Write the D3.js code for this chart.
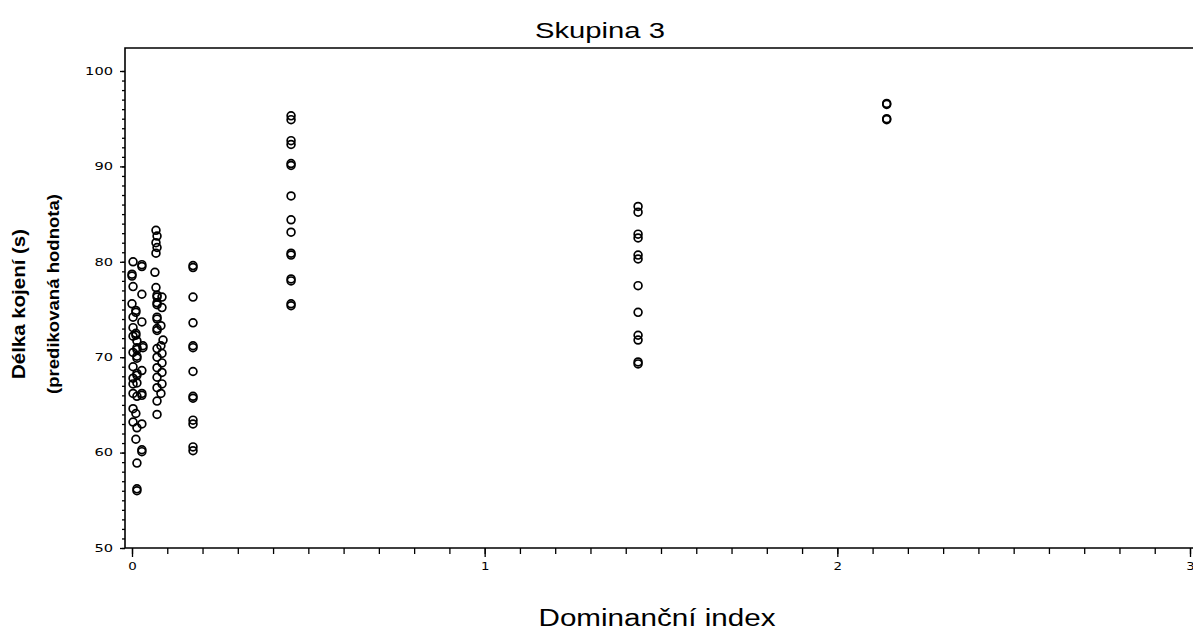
<!DOCTYPE html>
<html>
<head>
<meta charset="utf-8">
<script src="https://cdn.jsdelivr.net/npm/d3@7"></script>
<style>
  body { margin: 0; background: #fff; }
  svg { display: block; }
</style>
</head>
<body>
<svg id="chart" width="1193" height="633"></svg>
<script>
// Dominance index vs. predicted breastfeeding length.
// Heavier circles in the scan are two overlapping points, so they appear twice.
var group0 = [
  [0.003, 80.0], [0.028, 79.7], [0.028, 79.5], [0.000, 78.7], [0.000, 78.5],
  [0.003, 77.4], [0.028, 76.6], [0.000, 75.6], [0.011, 74.9], [0.011, 74.7],
  [0.003, 74.2], [0.028, 73.7], [0.003, 73.1], [0.011, 72.5], [0.011, 72.3],
  [0.003, 72.2], [0.014, 71.7], [0.031, 71.2], [0.031, 71.0], [0.014, 71.0],
  [0.014, 70.8], [0.003, 70.5], [0.014, 70.1], [0.014, 69.9], [0.003, 69.0],
  [0.028, 68.6], [0.014, 68.3], [0.014, 68.1], [0.003, 67.8], [0.014, 67.3],
  [0.003, 67.2], [0.028, 66.2], [0.028, 66.0], [0.003, 66.2], [0.014, 65.9],
  [0.003, 64.6], [0.011, 64.1], [0.003, 63.2], [0.028, 63.0], [0.014, 62.6],
  [0.011, 61.4], [0.028, 60.3], [0.028, 60.1], [0.014, 58.9], [0.014, 56.2],
  [0.014, 56.0]
];
var group1 = [
  [0.068, 83.3], [0.071, 82.7], [0.068, 82.0], [0.071, 81.5], [0.068, 80.9],
  [0.065, 78.9], [0.068, 77.3], [0.071, 76.5], [0.071, 76.3], [0.085, 76.3],
  [0.071, 75.7], [0.071, 75.5], [0.085, 75.2], [0.071, 74.2], [0.071, 74.0],
  [0.082, 73.3], [0.071, 73.0], [0.071, 72.8], [0.088, 71.8], [0.082, 71.2],
  [0.071, 70.9], [0.085, 70.4], [0.071, 70.0], [0.085, 69.4], [0.071, 68.9],
  [0.085, 68.4], [0.071, 67.9], [0.085, 67.2], [0.071, 66.8], [0.082, 66.2],
  [0.071, 65.4], [0.071, 64.0]
];
var group2 = [
  [0.173, 79.6], [0.173, 79.4], [0.173, 76.3], [0.173, 73.6], [0.173, 71.2],
  [0.173, 71.0], [0.173, 68.5], [0.173, 65.9], [0.173, 65.7], [0.173, 63.4],
  [0.173, 63.0], [0.173, 60.6], [0.173, 60.2]
];
var group3 = [
  [0.451, 95.3], [0.451, 94.9], [0.451, 92.7], [0.451, 92.3], [0.451, 90.3],
  [0.451, 90.1], [0.451, 86.9], [0.451, 84.4], [0.451, 83.1], [0.451, 80.9],
  [0.451, 80.7], [0.451, 78.2], [0.451, 78.0], [0.451, 75.6], [0.451, 75.4]
];
var group4 = [
  [1.435, 85.8], [1.435, 85.2], [1.435, 82.9], [1.435, 82.5], [1.435, 80.7],
  [1.435, 80.3], [1.435, 77.5], [1.435, 74.7], [1.435, 72.3], [1.435, 71.8],
  [1.435, 69.5], [1.435, 69.3]
];
var group5 = [
  [2.140, 96.6], [2.140, 96.5], [2.140, 95.0], [2.140, 94.9]
];

var xTicks = [0, 1, 2, 3];
var yTicks = [50, 60, 70, 80, 90, 100];
var title = "Skupina 3";
var xTitle = "Dominanční index";
var yTitle = "Délka kojení (s)";
var yTitle2 = "(predikovaná hodnota)";

var svg = d3.select("#chart");
var ink = "#000";

var x = d3.scaleLinear().domain([0, 3]).range([132, 1190]);
var y = d3.scaleLinear().domain([50, 100]).range([548, 71]);

// Frame: left, top and bottom lines (the right edge runs off the page).
var frameLeft = 125, frameTop = 48, frameBottom = 548;
svg.append("path")
  .attr("d", "M1193," + frameTop + "H" + frameLeft + "V" + frameBottom + "H1193")
  .attr("fill", "none")
  .attr("stroke", ink)
  .attr("stroke-width", 1.6);

// Stretch short labels so they look like the wide plotter digits.
function widen(sel, perChar) {
  sel.attr("textLength", function() { return this.textContent.length * perChar; })
    .attr("lengthAdjust", "spacingAndGlyphs");
}

// x axis: minor ticks every 0.1, labels at whole numbers
var xMinor = svg.append("g")
  .attr("transform", "translate(0," + frameBottom + ")")
  .call(d3.axisBottom(x).tickValues(d3.range(0, 3.001, 0.1)).tickSize(6).tickFormat(""));
var xMajor = svg.append("g")
  .attr("transform", "translate(0," + frameBottom + ")")
  .call(d3.axisBottom(x).tickValues(xTicks).tickSize(9).tickPadding(6).tickFormat(d3.format("d")));

// y axis: minor ticks every unit, labels every ten
var yMinor = svg.append("g")
  .attr("transform", "translate(" + frameLeft + ",0)")
  .call(d3.axisLeft(y).tickValues(d3.range(50, 100.001, 1)).tickSize(3).tickFormat(""));
var yMajor = svg.append("g")
  .attr("transform", "translate(" + frameLeft + ",0)")
  .call(d3.axisLeft(y).tickValues(yTicks).tickSize(5).tickPadding(7).tickFormat(d3.format("d")));

[xMinor, xMajor, yMinor, yMajor].forEach(function(g) {
  g.select(".domain").remove();
  g.selectAll("line").attr("stroke", ink).attr("stroke-width", 1.3);
  g.selectAll("text")
    .attr("fill", ink)
    .style("font-family", "'DejaVu Sans', sans-serif")
    .style("font-size", "10px");
});
xMajor.selectAll("text").call(widen, 8.5);
yMajor.selectAll("text").call(widen, 9.3);

// points
var points = [].concat(group0, group1, group2, group3, group4, group5);
svg.append("g")
  .selectAll("circle")
  .data(points)
  .enter().append("circle")
  .attr("cx", function(d) { return x(d[0]); })
  .attr("cy", function(d) { return y(d[1]); })
  .attr("r", 3.9)
  .attr("fill", "none")
  .attr("stroke", ink)
  .attr("stroke-width", 1.7);

// titles
var sans = "'Liberation Sans', Arial, sans-serif";
svg.append("text")
  .attr("x", 600).attr("y", 38)
  .attr("text-anchor", "middle")
  .attr("textLength", 130).attr("lengthAdjust", "spacingAndGlyphs")
  .style("font-family", sans).style("font-size", "22px")
  .text(title);

svg.append("text")
  .attr("x", 657).attr("y", 626)
  .attr("text-anchor", "middle")
  .attr("textLength", 237).attr("lengthAdjust", "spacingAndGlyphs")
  .style("font-family", sans).style("font-size", "23px")
  .text(xTitle);

svg.append("text")
  .attr("transform", "translate(25,304) rotate(-90)")
  .attr("text-anchor", "middle")
  .attr("textLength", 150).attr("lengthAdjust", "spacingAndGlyphs")
  .style("font-family", sans).style("font-size", "19px").style("font-weight", "bold")
  .text(yTitle);

svg.append("text")
  .attr("transform", "translate(59,294) rotate(-90)")
  .attr("text-anchor", "middle")
  .attr("textLength", 200).attr("lengthAdjust", "spacingAndGlyphs")
  .style("font-family", sans).style("font-size", "17px").style("font-weight", "bold")
  .text(yTitle2);
</script>
</body>
</html>
